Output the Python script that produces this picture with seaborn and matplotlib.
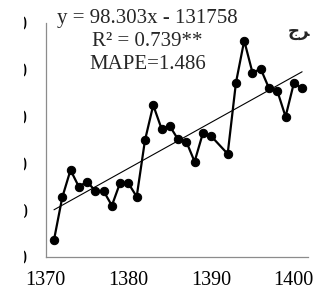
import numpy as np
import pandas as pd
import matplotlib
matplotlib.use("Agg")
import matplotlib.pyplot as plt
import seaborn as sns
from matplotlib.patches import Rectangle

# data (year 1391 is absent)
years = [1371, 1372, 1373, 1374, 1375, 1376, 1377, 1378, 1379, 1380,
         1381, 1382, 1383, 1384, 1385, 1386, 1387, 1388, 1389, 1390,
         1392, 1393, 1394, 1395, 1396, 1397, 1398, 1399, 1400, 1401]
values = [2370, 3280, 3865, 3510, 3615, 3420, 3415, 3105, 3595, 3580,
          3295, 4500, 5250, 4750, 4805, 4520, 4470, 4045, 4650, 4590,
          4210, 5730, 6630, 5945, 6025, 5610, 5555, 5005, 5720, 5610]
slope = 98.303
intercept = -131758
eq_text = "y = 98.303x - 131758\nR² = 0.739**\nMAPE=1.486"
y_ticks = [2000, 3000, 4000, 5000, 6000, 7000]
x_ticks = [1370, 1380, 1390, 1400]

df = pd.DataFrame({"Year": years, "Value": values})
trend = pd.DataFrame({"Year": [years[0], years[-1]]})
trend["Value"] = slope * trend["Year"] + intercept

sns.set_style("white")
plt.rcParams["font.family"] = ["Liberation Serif", "DejaVu Sans"]

fig = plt.figure(figsize=(3.19, 2.94), dpi=100)
ax = fig.add_axes([0.1433, 0.1248, 0.8232, 0.7959])

sns.lineplot(data=trend, x="Year", y="Value", color="black", linewidth=0.8, ax=ax)
sns.lineplot(data=df, x="Year", y="Value", color="black", linewidth=1.6,
             marker="o", markersize=6, markeredgecolor="black", ax=ax)

ax.set_xlim(1370, 1401.75)
ax.set_ylim(2000, 7000)
ax.set_xticks(x_ticks)
ax.set_yticks(y_ticks)
ax.set_xlabel("")
ax.set_ylabel("")
for s in ["top", "right"]:
    ax.spines[s].set_visible(False)
for s in ["left", "bottom"]:
    ax.spines[s].set_color("#8c8c8c")
    ax.spines[s].set_linewidth(0.9)
ax.tick_params(axis="both", direction="out", length=4, width=0.9,
               color="#8c8c8c", labelsize=14.5, labelcolor="black")
ax.tick_params(axis="x", pad=6)
ax.tick_params(axis="y", pad=9)

ax.text(0.388, 0.922, eq_text, transform=ax.transAxes, ha="center", va="center",
        fontsize=15, linespacing=1.3)

fig.text(0.972, 0.895, "\u062c\ufeae", ha="right", va="center", fontsize=12,
         fontweight="bold", family=["DejaVu Sans"])

# the left part of the source picture is blank
fig.patches.append(Rectangle((0, 0), 23.5 / 319, 1, transform=fig.transFigure,
                             facecolor="white", edgecolor="none", zorder=10))

fig.savefig("out.png", dpi=100)
